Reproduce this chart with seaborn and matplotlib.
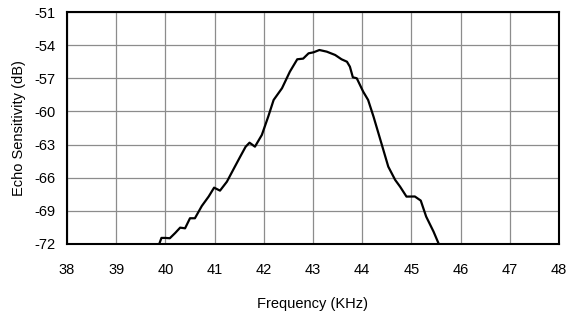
import matplotlib
matplotlib.use("Agg")
import matplotlib.pyplot as plt
import seaborn as sns
import pandas as pd

# Echo sensitivity curve
freq_khz = [39.85, 39.92, 40.00, 40.09, 40.20, 40.30, 40.40, 40.50, 40.60, 40.74,
            40.88, 40.99, 41.11, 41.25, 41.40, 41.52, 41.63, 41.71, 41.82, 41.96,
            42.09, 42.20, 42.37, 42.53, 42.68, 42.80, 42.91, 43.01, 43.13, 43.28,
            43.45, 43.58, 43.69, 43.75, 43.81, 43.89, 44.02, 44.12, 44.23, 44.39,
            44.53, 44.67, 44.77, 44.90, 45.07, 45.19, 45.30, 45.45, 45.55, 45.60]
sens_db = [-72.3, -71.45, -71.45, -71.48, -71.00, -70.52, -70.58, -69.67, -69.67, -68.56,
           -67.70, -66.90, -67.17, -66.36, -65.10, -64.10, -63.20, -62.83, -63.19, -62.13,
           -60.47, -58.96, -57.90, -56.40, -55.28, -55.22, -54.74, -54.65, -54.44, -54.59,
           -54.89, -55.28, -55.50, -55.95, -56.91, -57.00, -58.21, -58.96, -60.47, -62.88,
           -65.00, -66.20, -66.81, -67.71, -67.70, -68.07, -69.52, -70.88, -71.93, -72.3]

x_ticks = list(range(38, 49))
y_ticks = list(range(-72, -50, 3))

df = pd.DataFrame({"freq": freq_khz, "sens": sens_db})

sns.set_theme(style="white")
plt.rcParams["font.family"] = ["Liberation Sans", "DejaVu Sans"]
plt.rcParams["axes.unicode_minus"] = False

fig = plt.figure(figsize=(5.76, 3.21), dpi=100)
ax = fig.add_axes([0.1163, 0.2399, 0.8542, 0.7227])

sns.lineplot(data=df, x="freq", y="sens", color="black", linewidth=1.6, ax=ax)

ax.set_xlim(38, 48)
ax.set_ylim(-72, -51)
ax.set_xticks(x_ticks)
ax.set_yticks(y_ticks)
ax.grid(True, color="#8c8c8c", linewidth=0.9)
ax.set_axisbelow(True)
for s in ax.spines.values():
    s.set_color("black")
    s.set_linewidth(1.5)

ax.tick_params(axis="both", labelsize=10.5, length=0, pad=8, colors="black")
ax.tick_params(axis="x", pad=14)
ax.set_xlabel("Frequency (KHz)", fontsize=10.5, labelpad=14, color="black")
ax.set_ylabel("Echo Sensitivity (dB)", fontsize=10.5, labelpad=6, color="black")

fig.savefig("out.png", dpi=100)
